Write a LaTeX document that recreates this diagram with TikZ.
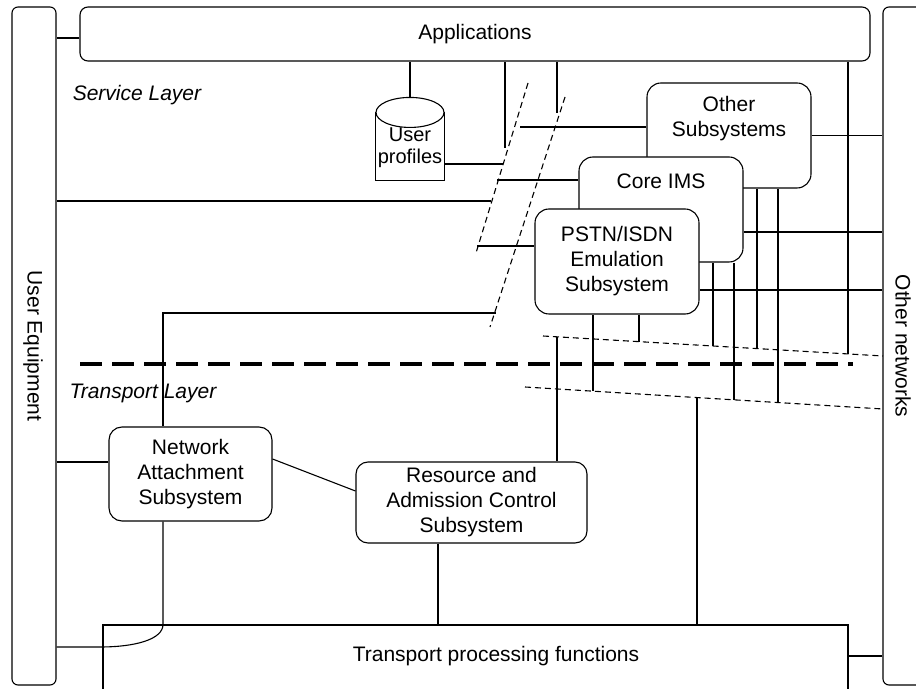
\documentclass[tikz,border=0pt]{standalone}
\usepackage{fontspec}
\setmainfont{Liberation Sans}
\usetikzlibrary{calc,positioning}

\begin{document}
\begin{tikzpicture}[x=0.5pt,y=-0.5pt,line width=0.55pt,
  every node/.style={font=\fontsize{10.5}{12.5}\selectfont},
  box/.style={draw,fill=white,rounded corners=7pt,align=center,inner sep=0pt,minimum width=82pt,minimum height=52.5pt},
  bar/.style={draw,fill=white,rounded corners=3pt,inner sep=0pt},
  cut/.style={dash pattern=on 3pt off 2pt},
  layer/.style={line width=1.8pt,dash pattern=on 11pt off 5pt}]
\useasboundingbox (0,0) rectangle (916,689);
% side bars and top bar
\node (apps) [bar,rounded corners=4pt,minimum width=395pt,minimum height=27pt] at (475,34) {Applications};
\node (ue) [bar,minimum width=22pt,minimum height=339pt] at (34,346) {};
\node (on) [bar,minimum width=23.5pt,minimum height=339pt] at (906.5,346) {};
\node (ue text) [rotate=-90] at (33,346) {User Equipment};
\node (on text) [rotate=-90] at (903,346) {Other networks};
\node (service) at (137,95) {\itshape Service Layer};
\node (transport) at (143,393) {\itshape Transport Layer};
% transport
\node (tpf) [draw,minimum width=372.5pt,minimum height=47pt] at (475.5,672) {};
\node (tpf text) at (496,656) {Transport processing functions};
\node (nas) [box,rounded corners=6.5pt,minimum width=81.5pt,minimum height=47pt] at (190.5,474) {Network\\Attachment\\Subsystem};
\node (racs) [box,rounded corners=6pt,minimum width=115.5pt,minimum height=40.5pt] at (471.5,502.5) {Resource and\\Admission Control\\Subsystem};
% service
\node (other) [box] at (729,135.5) {};
\node (other text) [align=center] at (729,119) {Other\\Subsystems};
\node (core) [box] at (661,209.5) {};
\node (core text) at (661,181) {Core IMS};
\node (pstn) [box] at (617,261.5) {PSTN/ISDN\\Emulation\\Subsystem};
\node (prof) [minimum width=34pt,minimum height=41pt,inner sep=0pt] at (410,139) {};
\draw [fill=white] ([yshift=-7.5pt]prof.north west) -- (prof.south west) -- (prof.south east) -- ([yshift=-7.5pt]prof.north east);
\draw ([yshift=-7.5pt]prof.north) ellipse [x radius=17pt,y radius=7.5pt];
\node (prof text) [font=\fontsize{10}{11}\selectfont,align=center] at (410,148) {User\\profiles};

% reference points
\coordinate (cut a1) at (528,83);
\coordinate (cut a2) at (476,253);
\coordinate (cut b1) at (565,97);
\coordinate (cut b2) at (490,327);
\coordinate (cut c1) at (543,336);
\coordinate (cut c2) at (883,356);
\coordinate (cut d1) at (525,387);
\coordinate (cut d2) at (883,409);
\coordinate (layer w) at (80,364);
\coordinate (layer e) at (853,364);
\coordinate (e1) at (505,148);
\coordinate (e2) at (557,113);
\coordinate (e3) at (520,127);
\coordinate (e4) at (503,164);
\coordinate (e5) at (497,180);
\coordinate (e6) at (491,201);
\coordinate (e7) at (477,246);
\coordinate (e8) at (496,313);
\coordinate (e9) at (593,391);
\coordinate (e10) at (639,342);
\coordinate (e11) at (713,346);
\coordinate (e12) at (734,400);
\coordinate (e13) at (757,349);
\coordinate (e14) at (778,403);
\coordinate (e15) at (848,354);
\coordinate (e16) at (557,337);
\coordinate (e17) at (697,398);
\coordinate (e18) at (100,647);

% links
\draw ([yshift=-2pt]apps.west) -- ([yshift=-2pt]apps.west -| ue.east);
\draw (prof.north) -- (prof.north |- apps.south);
\foreach \p in {e1,e2,e15} \draw (\p) -- (\p |- apps.south);
\draw (e3) -- (e3 -| other.west);
\draw (e4) -- (e4 -| prof.east);
\draw (e5) -- (e5 -| core.west);
\draw (e6) -- (e6 -| ue.east);
\draw (e7) -- (e7 -| pstn.west);
\draw ([xshift=-13.75pt]nas.north) |- (e8);
\foreach \p in {e9,e10} \draw (\p) -- (\p |- pstn.south);
\foreach \p in {e11,e12} \draw (\p) -- (\p |- core.south);
\foreach \p in {e13,e14} \draw (\p) -- (\p |- other.south);
\draw (e16) -- (e16 |- racs.north);
\draw (e17) -- (e17 |- tpf.north);
\draw (other.east) -- (other.east -| on.west);
\draw ([yshift=-11.25pt]core.east) -- ([yshift=-11.25pt]core.east -| on.west);
\draw ([yshift=-14.25pt]pstn.east) -- ([yshift=-14.25pt]pstn.east -| on.west);
\draw ([yshift=8pt]tpf.east) -- ([yshift=8pt]tpf.east -| on.west);
\draw ([yshift=6pt]nas.west) -- ([yshift=6pt]nas.west -| ue.east);
\draw ([yshift=7.5pt]nas.east) -- ([yshift=5.75pt]racs.west);
\draw ([xshift=-16.75pt]racs.south) -- ([xshift=-16.75pt]racs.south |- tpf.north);
\draw ([xshift=-13.75pt]nas.south) -- ([xshift=-13.75pt]nas.south |- tpf.north) .. controls +(0,15) and +(35,0) .. (e18) -- (e18 -| ue.east);

% cuts and layer border
\draw [cut] (cut a1) -- (cut a2);
\draw [cut] (cut b1) -- (cut b2);
\draw [cut] (cut c1) -- (cut c2);
\draw [cut] (cut d1) -- (cut d2);
\draw [layer] (layer w) -- (layer e);
\end{tikzpicture}
\end{document}
